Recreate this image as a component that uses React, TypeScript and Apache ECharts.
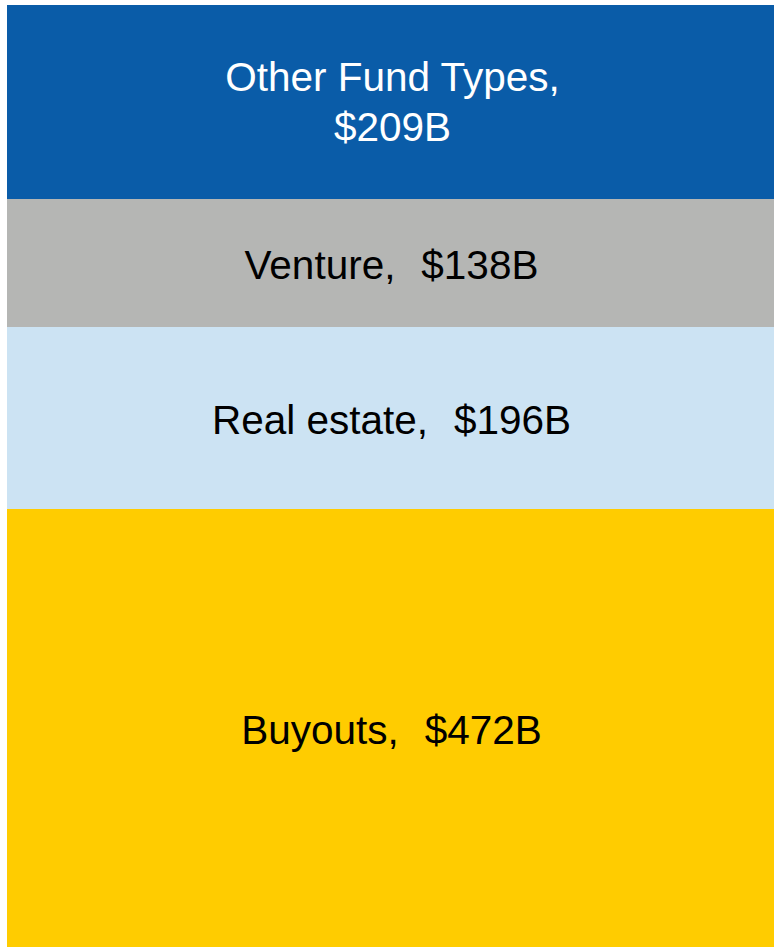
import React, { useEffect, useRef } from "react";
import * as echarts from "echarts";

const categories = ["Total"];
const segmentNames = ["Buyouts", "Real estate", "Venture", "Other Fund Types"];
const segmentValues = [472, 196, 138, 209];
const segmentColors = ["#FFCC00", "#CCE3F3", "#B5B6B4", "#0A5CA8"];
const labelColors = ["#000000", "#000000", "#000000", "#FFFFFF"];

export default function App() {
  const ref = useRef<HTMLDivElement>(null);
  useEffect(() => {
    if (!ref.current) return;
    const chart = echarts.init(ref.current, null, { renderer: "svg" });
    const total = segmentValues.reduce((a, b) => a + b, 0);
    chart.setOption({
      animation: false,
      grid: { left: 7, right: 0, top: 5, bottom: 1 },
      xAxis: { type: "category", data: categories, show: false },
      yAxis: { type: "value", min: 0, max: total, show: false },
      series: segmentNames.map((name, i) => ({
        name,
        type: "bar",
        stack: "all",
        barWidth: "100%",
        data: [segmentValues[i]],
        itemStyle: { color: segmentColors[i] },
        label: {
          show: true,
          position: "inside",
          offset: name === "Other Fund Types" ? [2, 0] : [1, 2],
          color: labelColors[i],
          fontFamily: "Liberation Sans, Arial, sans-serif",
          fontSize: 40.5,
          lineHeight: 50,
          formatter: (p: any) =>
            name === "Other Fund Types"
              ? `${name},\n$${p.value}B`
              : `${name},\u00a0\u200a $${p.value}B`,
        },
      })),
    });
    return () => chart.dispose();
  }, []);
  return (
    <div
      ref={ref}
      style={{ position: "absolute", left: 0, top: 0, width: 774, height: 948, background: "#ffffff" }}
    />
  );
}
